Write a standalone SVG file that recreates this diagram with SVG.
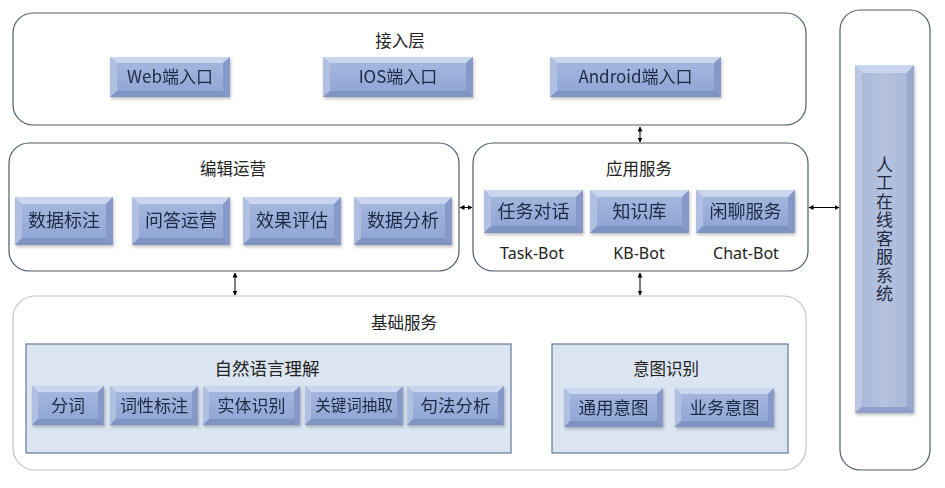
<svg xmlns="http://www.w3.org/2000/svg" width="945" height="488" viewBox="0 0 945 488">
<defs>
<linearGradient id="btn" x1="0" y1="0" x2="0" y2="1">
<stop offset="0" stop-color="#a7badf"/>
<stop offset="1" stop-color="#8da3d3"/>
</linearGradient>
<linearGradient id="tall" x1="0" y1="0" x2="1" y2="0">
<stop offset="0" stop-color="#a6b6d8"/>
<stop offset="0.5" stop-color="#b5c3df"/>
<stop offset="1" stop-color="#a5b5d7"/>
</linearGradient>
<filter id="sh" x="-10%" y="-10%" width="125%" height="140%">
<feDropShadow dx="1" dy="2" stdDeviation="1.5" flood-color="#000" flood-opacity="0.25"/>
</filter>
<marker id="ah" viewBox="0 0 10 10" refX="9" refY="5" markerWidth="5" markerHeight="5" orient="auto-start-reverse">
<path d="M0,0 L10,5 L0,10 z" fill="#000"/>
</marker>
</defs>
<style>
.box{fill:#fff;stroke:#4d5b6b;stroke-width:1.2}
.boxl{fill:#fff;stroke:#bfc3ca;stroke-width:1.2}
.sub{fill:#dbe5f1;stroke:#5f7897;stroke-width:1.2}
.base{fill:url(#btn)}
.tp{fill:#c9d6ee}
.lf{fill:#afc0e3}
.rt{fill:#8699c8}
.bt{fill:#8094c4}
.t{font-family:"Noto Sans CJK SC","Noto Sans",sans-serif;fill:#1e2a44;text-anchor:middle}
.h{font-size:16.5px;fill:#222}
.b{font-size:17px}
.e{font-family:"Noto Sans","Noto Sans CJK SC",sans-serif;font-size:16px;fill:#222;text-anchor:middle}
.c{stroke:#000;stroke-width:1;fill:none;marker-start:url(#ah);marker-end:url(#ah)}
</style>

<g id="access-layer">
<rect class="box" x="13" y="13" width="793" height="112" rx="20"/>
<text class="t h" x="400" y="47">接入层</text>
</g>
<g id="web" transform="translate(110,57)" filter="url(#sh)">
<rect class="base" width="120" height="40"/>
<polygon class="tp" points="0,0 120,0 113,6 7,6"/><polygon class="lf" points="0,0 7,6 7,34 0,40"/><polygon class="rt" points="120,0 120,40 113,34 113,6"/><polygon class="bt" points="0,40 7,34 113,34 120,40"/>
<text class="t b" x="60" y="26">Web端入口</text>
</g>
<g id="ios" transform="translate(323,57)" filter="url(#sh)">
<rect class="base" width="150" height="40"/>
<polygon class="tp" points="0,0 150,0 143,6 7,6"/><polygon class="lf" points="0,0 7,6 7,34 0,40"/><polygon class="rt" points="150,0 150,40 143,34 143,6"/><polygon class="bt" points="0,40 7,34 143,34 150,40"/>
<text class="t b" x="75" y="26">IOS端入口</text>
</g>
<g id="android" transform="translate(550,57)" filter="url(#sh)">
<rect class="base" width="171" height="40"/>
<polygon class="tp" points="0,0 171,0 164,6 7,6"/><polygon class="lf" points="0,0 7,6 7,34 0,40"/><polygon class="rt" points="171,0 171,40 164,34 164,6"/><polygon class="bt" points="0,40 7,34 164,34 171,40"/>
<text class="t b" x="85.5" y="26">Android端入口</text>
</g>

<g id="human-service">
<rect class="box" x="840" y="10" width="90" height="460" rx="20"/>
<g transform="translate(855,65)" filter="url(#sh)">
<rect fill="url(#tall)" width="59" height="348"/>
<polygon class="tp" points="0,0 59,0 52,8 7,8"/><polygon fill="#bac8e4" points="0,0 7,8 7,342 0,348"/><polygon fill="#98a9ce" points="59,0 59,348 52,342 52,8"/><polygon fill="#909fc7" points="0,348 7,342 52,342 59,348"/>
</g>
<text class="t b" x="884.5" y="156" style="writing-mode:vertical-rl;text-anchor:start;letter-spacing:1.5px">人工在线客服系统</text>
</g>

<g id="editing-ops">
<rect class="box" x="9" y="143" width="450" height="128" rx="20"/>
<text class="t h" x="233" y="175">编辑运营</text>
</g>
<g id="data-label" transform="translate(15,197)" filter="url(#sh)">
<rect class="base" width="98" height="48"/>
<polygon class="tp" points="0,0 98,0 91,7 7,7"/><polygon class="lf" points="0,0 7,7 7,41 0,48"/><polygon class="rt" points="98,0 98,48 91,41 91,7"/><polygon class="bt" points="0,48 7,41 91,41 98,48"/>
<text class="t b" x="49" y="30" style="font-size:18px">数据标注</text>
</g>
<g id="qa-ops" transform="translate(132,197)" filter="url(#sh)">
<rect class="base" width="98" height="48"/>
<polygon class="tp" points="0,0 98,0 91,7 7,7"/><polygon class="lf" points="0,0 7,7 7,41 0,48"/><polygon class="rt" points="98,0 98,48 91,41 91,7"/><polygon class="bt" points="0,48 7,41 91,41 98,48"/>
<text class="t b" x="49" y="30" style="font-size:18px">问答运营</text>
</g>
<g id="eval" transform="translate(243,197)" filter="url(#sh)">
<rect class="base" width="98" height="48"/>
<polygon class="tp" points="0,0 98,0 91,7 7,7"/><polygon class="lf" points="0,0 7,7 7,41 0,48"/><polygon class="rt" points="98,0 98,48 91,41 91,7"/><polygon class="bt" points="0,48 7,41 91,41 98,48"/>
<text class="t b" x="49" y="30" style="font-size:18px">效果评估</text>
</g>
<g id="data-analysis" transform="translate(354,197)" filter="url(#sh)">
<rect class="base" width="98" height="48"/>
<polygon class="tp" points="0,0 98,0 91,7 7,7"/><polygon class="lf" points="0,0 7,7 7,41 0,48"/><polygon class="rt" points="98,0 98,48 91,41 91,7"/><polygon class="bt" points="0,48 7,41 91,41 98,48"/>
<text class="t b" x="49" y="30" style="font-size:18px">数据分析</text>
</g>

<g id="app-service">
<rect class="box" x="473" y="143" width="335" height="128" rx="20"/>
<text class="t h" x="639" y="175">应用服务</text>
<text class="e" x="532" y="259">Task-Bot</text>
<text class="e" x="639" y="259">KB-Bot</text>
<text class="e" x="746" y="259">Chat-Bot</text>
</g>
<g id="task-dialog" transform="translate(484,190)" filter="url(#sh)">
<rect class="base" width="99" height="43"/>
<polygon class="tp" points="0,0 99,0 92,7 7,7"/><polygon class="lf" points="0,0 7,7 7,36 0,43"/><polygon class="rt" points="99,0 99,43 92,36 92,7"/><polygon class="bt" points="0,43 7,36 92,36 99,43"/>
<text class="t b" x="49.5" y="28" style="font-size:18px">任务对话</text>
</g>
<g id="kb" transform="translate(590,190)" filter="url(#sh)">
<rect class="base" width="99" height="43"/>
<polygon class="tp" points="0,0 99,0 92,7 7,7"/><polygon class="lf" points="0,0 7,7 7,36 0,43"/><polygon class="rt" points="99,0 99,43 92,36 92,7"/><polygon class="bt" points="0,43 7,36 92,36 99,43"/>
<text class="t b" x="49.5" y="28" style="font-size:18px">知识库</text>
</g>
<g id="chat" transform="translate(696,190)" filter="url(#sh)">
<rect class="base" width="99" height="43"/>
<polygon class="tp" points="0,0 99,0 92,7 7,7"/><polygon class="lf" points="0,0 7,7 7,36 0,43"/><polygon class="rt" points="99,0 99,43 92,36 92,7"/><polygon class="bt" points="0,43 7,36 92,36 99,43"/>
<text class="t b" x="49.5" y="28" style="font-size:18px">闲聊服务</text>
</g>

<g id="base-service">
<rect class="boxl" x="13" y="296" width="793" height="174" rx="22"/>
<text class="t h" x="404" y="329">基础服务</text>
</g>
<g id="nlu">
<rect class="sub" x="26" y="344" width="485" height="109"/>
<text class="t h" x="267" y="375" style="font-size:17.5px">自然语言理解</text>
</g>
<g id="seg" transform="translate(32,386)" filter="url(#sh)">
<rect class="base" width="72" height="39"/>
<polygon class="tp" points="0,0 72,0 66,6 6,6"/><polygon class="lf" points="0,0 6,6 6,33 0,39"/><polygon class="rt" points="72,0 72,39 66,33 66,6"/><polygon class="bt" points="0,39 6,33 66,33 72,39"/>
<text class="t b" x="36" y="25.5">分词</text>
</g>
<g id="pos" transform="translate(110,386)" filter="url(#sh)">
<rect class="base" width="88" height="39"/>
<polygon class="tp" points="0,0 88,0 82,6 6,6"/><polygon class="lf" points="0,0 6,6 6,33 0,39"/><polygon class="rt" points="88,0 88,39 82,33 82,6"/><polygon class="bt" points="0,39 6,33 82,33 88,39"/>
<text class="t b" x="44" y="25.5">词性标注</text>
</g>
<g id="ner" transform="translate(203,386)" filter="url(#sh)">
<rect class="base" width="97" height="39"/>
<polygon class="tp" points="0,0 97,0 91,6 6,6"/><polygon class="lf" points="0,0 6,6 6,33 0,39"/><polygon class="rt" points="97,0 97,39 91,33 91,6"/><polygon class="bt" points="0,39 6,33 91,33 97,39"/>
<text class="t b" x="48.5" y="25.5">实体识别</text>
</g>
<g id="keyword" transform="translate(305,386)" filter="url(#sh)">
<rect class="base" width="98" height="39"/>
<polygon class="tp" points="0,0 98,0 92,6 6,6"/><polygon class="lf" points="0,0 6,6 6,33 0,39"/><polygon class="rt" points="98,0 98,39 92,33 92,6"/><polygon class="bt" points="0,39 6,33 92,33 98,39"/>
<text class="t b" x="49" y="25" style="font-size:15.5px">关键词抽取</text>
</g>
<g id="syntax" transform="translate(407,386)" filter="url(#sh)">
<rect class="base" width="97" height="39"/>
<polygon class="tp" points="0,0 97,0 91,6 6,6"/><polygon class="lf" points="0,0 6,6 6,33 0,39"/><polygon class="rt" points="97,0 97,39 91,33 91,6"/><polygon class="bt" points="0,39 6,33 91,33 97,39"/>
<text class="t b" x="48.5" y="25.5" style="font-size:17.5px">句法分析</text>
</g>

<g id="intent">
<rect class="sub" x="552" y="344" width="236" height="109"/>
<text class="t h" x="666" y="375">意图识别</text>
</g>
<g id="general-intent" transform="translate(564,388)" filter="url(#sh)">
<rect class="base" width="99" height="39"/>
<polygon class="tp" points="0,0 99,0 93,6 6,6"/><polygon class="lf" points="0,0 6,6 6,33 0,39"/><polygon class="rt" points="99,0 99,39 93,33 93,6"/><polygon class="bt" points="0,39 6,33 93,33 99,39"/>
<text class="t b" x="49.5" y="26" style="font-size:17.5px">通用意图</text>
</g>
<g id="biz-intent" transform="translate(675,388)" filter="url(#sh)">
<rect class="base" width="99" height="39"/>
<polygon class="tp" points="0,0 99,0 93,6 6,6"/><polygon class="lf" points="0,0 6,6 6,33 0,39"/><polygon class="rt" points="99,0 99,39 93,33 93,6"/><polygon class="bt" points="0,39 6,33 93,33 99,39"/>
<text class="t b" x="49.5" y="26" style="font-size:17.5px">业务意图</text>
</g>

<g id="connectors">
<line class="c" x1="640" y1="127" x2="640" y2="142"/>
<line class="c" x1="460" y1="207.5" x2="472" y2="207.5"/>
<line class="c" x1="809" y1="207.5" x2="839" y2="207.5"/>
<line class="c" x1="235" y1="273" x2="235" y2="295"/>
<line class="c" x1="640" y1="273" x2="640" y2="295"/>
</g>
</svg>
